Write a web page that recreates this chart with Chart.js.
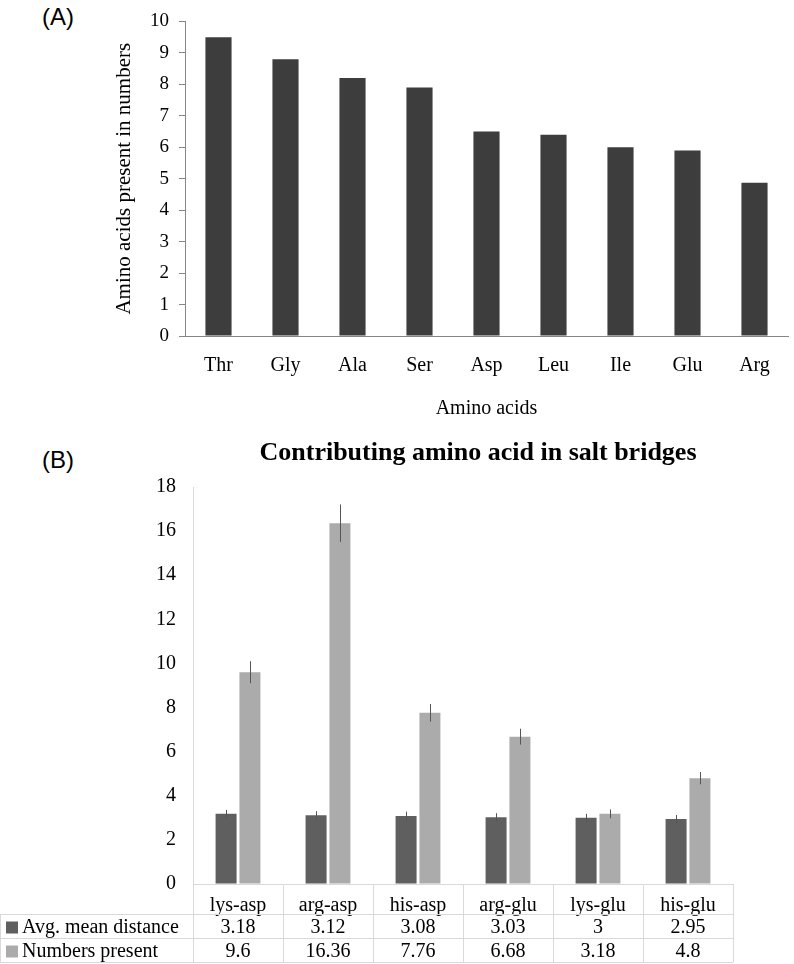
<!DOCTYPE html>
<html>
<head>
<meta charset="utf-8">
<script src="https://cdn.jsdelivr.net/npm/chart.js@4.4.0/dist/chart.umd.min.js"></script>
<style>
  body { margin: 0; background: #fff; }
  .panel-label { position: absolute; font-family: 'Liberation Sans', Arial, sans-serif; font-size: 24px; line-height: 24px; color: #000; }
  canvas { position: absolute; left: 0; }
</style>
</head>
<body>
<div class="panel-label" style="left:42px; top:5px;">(A)</div>
<div class="panel-label" style="left:42px; top:448px;">(B)</div>
<canvas id="chart-a" width="794" height="425" style="top:0;"></canvas>
<canvas id="chart-b" width="794" height="544" style="top:420px;"></canvas>

<script>
// panel A
var aminoAcids = ['Thr', 'Gly', 'Ala', 'Ser', 'Asp', 'Leu', 'Ile', 'Glu', 'Arg'];
var aminoCounts = [9.5, 8.8, 8.2, 7.9, 6.5, 6.4, 6.0, 5.9, 4.87];

// panel B
var pairs = ['lys-asp', 'arg-asp', 'his-asp', 'arg-glu', 'lys-glu', 'his-glu'];
var avgDistance = [3.18, 3.12, 3.08, 3.03, 3, 2.95];
var avgDistanceErr = [0.18, 0.18, 0.2, 0.18, 0.18, 0.18];
var numbersPresent = [9.6, 16.36, 7.76, 6.68, 3.18, 4.8];
var numbersPresentErr = [0.5, 0.85, 0.4, 0.36, 0.2, 0.28];
var seriesNames = ['Avg. mean distance', 'Numbers present'];
var titleB = 'Contributing amino acid in salt bridges';

Chart.defaults.font.family = "'Liberation Serif', 'Times New Roman', serif";
Chart.defaults.color = '#000';
Chart.defaults.animation = false;

var chartA = new Chart(document.getElementById('chart-a').getContext('2d'), {
    type: 'bar',
    data: {
        labels: aminoAcids,
        datasets: [{
            data: aminoCounts,
            backgroundColor: '#3d3d3d',
            barPercentage: 0.39,
            categoryPercentage: 1
        }]
    },
    options: {
        responsive: false,
        layout: { padding: { left: 110, right: 6, top: 18, bottom: 0 } },
        plugins: { legend: { display: false }, tooltip: { enabled: false } },
        scales: {
            y: {
                min: 0,
                max: 10,
                afterFit: function (scale) { scale.width = 75; },
                ticks: { stepSize: 1, font: { size: 19 }, padding: 10 },
                grid: { drawOnChartArea: false, tickLength: 6, color: '#868686' },
                border: { color: '#868686' },
                title: {
                    display: true,
                    text: 'Amino acids present in numbers',
                    font: { size: 21 },
                    padding: { top: 2, bottom: 0 }
                }
            },
            x: {
                afterFit: function (scale) { scale.height = 89; },
                ticks: { font: { size: 20 }, padding: 18 },
                grid: { drawOnChartArea: false, drawTicks: false, color: '#868686' },
                border: { color: '#868686' },
                title: {
                    display: true,
                    text: 'Amino acids',
                    font: { size: 20 },
                    padding: { top: 0, bottom: 4 }
                }
            }
        }
    }
});

// error bars for panel B
var errorBars = {
    id: 'errorBars',
    afterDatasetsDraw: function (chart) {
        var ctx = chart.ctx;
        var y = chart.scales.y;
        var errs = [avgDistanceErr, numbersPresentErr];
        ctx.save();
        ctx.strokeStyle = '#555';
        ctx.lineWidth = 1;
        chart.data.datasets.forEach(function (ds, d) {
            var meta = chart.getDatasetMeta(d);
            meta.data.forEach(function (bar, i) {
                var v = ds.data[i];
                var x = Math.round(bar.x) + 0.5;
                ctx.beginPath();
                ctx.moveTo(x, y.getPixelForValue(v + errs[d][i]));
                ctx.lineTo(x, y.getPixelForValue(v - errs[d][i]));
                ctx.stroke();
            });
        });
        ctx.restore();
    }
};

// title + data table under the x axis
var dataTable = {
    id: 'dataTable',
    afterDraw: function (chart) {
        var ctx = chart.ctx;
        var area = chart.chartArea;
        var xs = chart.scales.x;
        var n = pairs.length;
        var catW = (xs.right - xs.left) / n;
        var rows = [494.5, 518.5, 542.5];
        var bottom = chart.height - 1.5;
        var colors = ['#5f5f5f', '#ababab'];
        var values = [avgDistance, numbersPresent];

        ctx.save();
        // title
        ctx.fillStyle = '#000';
        ctx.font = "bold 26px 'Liberation Serif', serif";
        ctx.textAlign = 'center';
        ctx.textBaseline = 'middle';
        ctx.fillText(titleB, 478, 33);

        // grid lines
        ctx.strokeStyle = '#d9d9d9';
        ctx.lineWidth = 1;
        for (var i = 0; i <= n; i++) {
            var gx = Math.round(xs.left + i * catW) + 0.5;
            ctx.beginPath();
            ctx.moveTo(gx, area.bottom);
            ctx.lineTo(gx, bottom);
            ctx.stroke();
        }
        rows.forEach(function (ry) {
            ctx.beginPath();
            ctx.moveTo(0, ry);
            ctx.lineTo(xs.right, ry);
            ctx.stroke();
        });
        ctx.beginPath();
        ctx.moveTo(0.5, rows[0]);
        ctx.lineTo(0.5, bottom);
        ctx.stroke();

        // rows
        ctx.font = "20px 'Liberation Serif', serif";
        for (var r = 0; r < 2; r++) {
            var cy = (rows[r] + rows[r + 1]) / 2 + 1;
            ctx.fillStyle = colors[r];
            ctx.fillRect(6, cy - 6, 12, 12);
            ctx.fillStyle = '#000';
            ctx.textAlign = 'left';
            ctx.fillText(seriesNames[r], 22, cy);
            ctx.textAlign = 'center';
            for (var c = 0; c < n; c++) {
                ctx.fillText(String(values[r][c]), xs.getPixelForValue(c), cy);
            }
        }
        ctx.restore();
    }
};

var chartB = new Chart(document.getElementById('chart-b').getContext('2d'), {
    type: 'bar',
    data: {
        labels: pairs,
        datasets: [
            {
                label: seriesNames[0],
                data: avgDistance,
                backgroundColor: '#5f5f5f',
                barPercentage: 0.88,
                categoryPercentage: 0.53
            },
            {
                label: seriesNames[1],
                data: numbersPresent,
                backgroundColor: '#ababab',
                barPercentage: 0.88,
                categoryPercentage: 0.53
            }
        ]
    },
    options: {
        responsive: false,
        layout: { padding: { left: 0, right: 61, top: 67, bottom: 0 } },
        plugins: { legend: { display: false }, tooltip: { enabled: false } },
        scales: {
            y: {
                min: 0,
                max: 18,
                afterFit: function (scale) { scale.width = 193; },
                ticks: { stepSize: 2, font: { size: 20 }, padding: 17 },
                grid: { drawOnChartArea: false, drawTicks: false },
                border: { color: '#d9d9d9' }
            },
            x: {
                afterFit: function (scale) { scale.height = 80; },
                ticks: { font: { size: 20 }, padding: 10 },
                grid: { drawOnChartArea: false, drawTicks: false, color: '#d9d9d9' },
                border: { color: '#d9d9d9' }
            }
        }
    },
    plugins: [errorBars, dataTable]
});
</script>
</body>
</html>
